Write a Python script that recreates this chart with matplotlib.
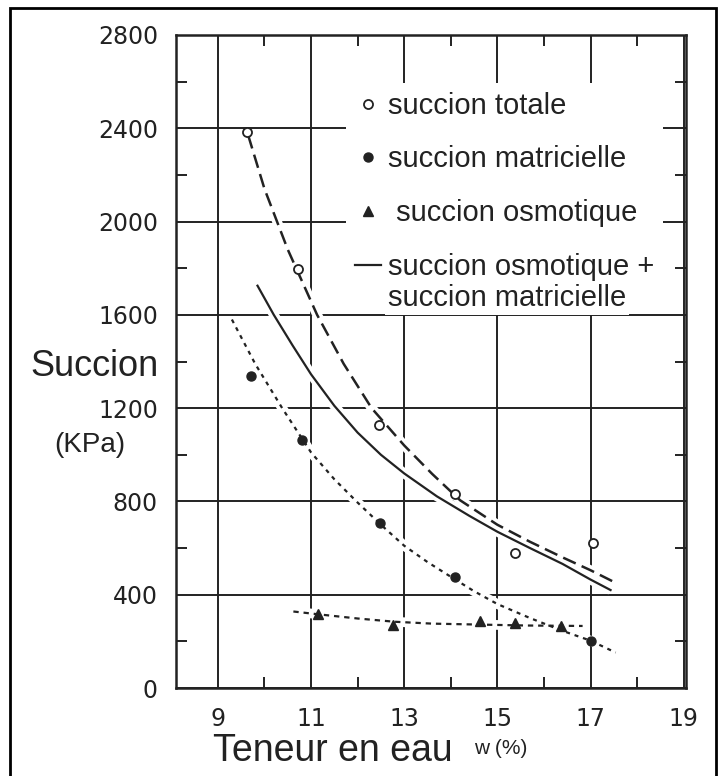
#!/usr/bin/env python3
import matplotlib
matplotlib.use('Agg')
import matplotlib.pyplot as plt
from matplotlib.patches import Rectangle

# measured points
w_total = [9.63, 10.72, 12.45, 14.1, 15.38, 17.05]
s_total = [2385, 1795, 1128, 832, 580, 622]
w_matric = [9.7, 10.81, 12.47, 14.08, 17.02]
s_matric = [1336, 1065, 708, 475, 200]
w_osmo = [11.15, 12.75, 14.62, 15.38, 16.37]
s_osmo = [318, 270, 288, 280, 267]

# fitted curves
cw_total = [9.65, 10.0, 10.5, 11.13, 11.7, 12.3, 13.0, 13.6, 14.2, 15.0, 15.7, 16.4, 17.0, 17.5]
cs_total = [2370, 2140, 1880, 1600, 1390, 1200, 1040, 918, 805, 700, 627, 560, 505, 455]
cw_sum = [9.85, 10.2, 10.6, 11.0, 11.5, 12.0, 12.5, 13.0, 13.7, 14.4, 15.0, 15.7, 16.4, 17.0, 17.43]
cs_sum = [1725, 1600, 1470, 1345, 1210, 1095, 1000, 920, 822, 738, 670, 600, 532, 465, 420]
cw_matric = [9.3, 9.8, 10.38, 11.0, 11.5, 12.0, 12.5, 13.0, 13.5, 14.0, 14.5, 15.0, 15.7, 16.4, 17.0, 17.54]
cs_matric = [1580, 1390, 1200, 1010, 895, 795, 700, 610, 540, 477, 415, 360, 300, 245, 203, 152]
cw_osmo = [10.62, 11.2, 12.0, 12.8, 13.6, 14.6, 15.6, 16.83]
cs_osmo = [328, 315, 298, 284, 276, 272, 268, 266]

x_ticks = [9, 11, 13, 15, 17, 19]
y_ticks = [0, 400, 800, 1200, 1600, 2000, 2400, 2800]

ink = '#222222'
plt.rcParams['font.family'] = ['Liberation Sans', 'DejaVu Sans']

fig = plt.figure(figsize=(7.26, 7.76), dpi=100)
ax = fig.add_axes([176 / 726, 1 - 688 / 776, 510 / 726, 653 / 776])

# white halos under the curves so the grid is cut where they cross
for cx, cy in [(cw_total, cs_total), (cw_sum, cs_sum), (cw_matric, cs_matric), (cw_osmo, cs_osmo)]:
    ax.plot(cx, cy, color='white', lw=7, solid_capstyle='butt', zorder=2)

ax.plot(cw_total, cs_total, color=ink, lw=1.8, dashes=(5.5, 2.6), zorder=3)
sum_line, = ax.plot(cw_sum, cs_sum, color=ink, lw=1.6, zorder=3,
                    label='succion osmotique +')
ax.plot(cw_matric, cs_matric, color=ink, lw=1.6, dashes=(1.8, 2.2), zorder=3)
ax.plot(cw_osmo, cs_osmo, color=ink, lw=1.6, dashes=(2.4, 2.2), zorder=3)

p_tot, = ax.plot(w_total, s_total, 'o', ms=6.5, mfc='white', mec=ink, mew=1.3,
                 zorder=4, label='succion totale')
p_mat, = ax.plot(w_matric, s_matric, 'o', ms=6.5, color=ink, zorder=4,
                 label='succion matricielle')
p_osm, = ax.plot(w_osmo, s_osmo, '^', ms=7, color=ink, zorder=4,
                 label=' succion osmotique')

ax.set_xlim(8.1, 19.05)
ax.set_ylim(0, 2800)
ax.set_xticks(x_ticks)
ax.set_yticks(y_ticks)
ax.set_xticks([10, 12, 14, 16, 18], minor=True)
ax.set_yticks([200, 600, 1000, 1400, 1800, 2200, 2600], minor=True)
ax.tick_params(which='both', direction='in', top=True, right=True,
               color=ink, width=1.4, labelcolor=ink, labelsize=17)
ax.tick_params(which='major', length=0)
ax.tick_params(which='minor', length=8)
ax.tick_params(axis='x', pad=14)
ax.tick_params(axis='y', pad=13)
for lab in ax.get_xticklabels() + ax.get_yticklabels():
    lab.set_family('DejaVu Sans')
ax.grid(True, which='major', color=ink, lw=1.4, zorder=1)
ax.set_axisbelow(True)
for sp in ax.spines.values():
    sp.set_color(ink)
    sp.set_linewidth(1.8)

leg = ax.legend(handles=[p_tot, p_mat, p_osm, sum_line], loc='upper left',
                bbox_to_anchor=(346 / 726, 1 - 83 / 776), bbox_transform=fig.transFigure,
                fontsize=21, frameon=True, facecolor='white', edgecolor='none',
                framealpha=1, borderpad=0.3, handlelength=0.9, handletextpad=0.25,
                labelspacing=0.88, borderaxespad=0)
for t in leg.get_texts():
    t.set_color(ink)
leg.set_zorder(5)

# second line of the last legend entry, set under the first one
fig.canvas.draw()
bb = leg.get_texts()[3].get_window_extent(fig.canvas.get_renderer())
fig.text(bb.x0 / 726, (bb.y0 + bb.y1) / 2 / 776 - 31 / 776, 'succion matricielle',
         fontsize=21, color=ink, ha='left', va='center', zorder=6,
         bbox=dict(facecolor='white', edgecolor='none', pad=2))

fig.text(95 / 726, 1 - 367 / 776, 'Succion', fontsize=26, color=ink, ha='center', va='center')
fig.text(90 / 726, 1 - 445 / 776, '(KPa)', fontsize=20, color=ink, ha='center', va='center')
fig.text(213 / 726, 1 - 751 / 776, 'Teneur en eau', fontsize=27, color=ink, ha='left', va='center')
fig.text(474 / 726, 1 - 749 / 776, 'w (%)', fontsize=15, color=ink, ha='left', va='center')

# frame round the scanned figure
fig.patches.append(Rectangle((10 / 726, -0.01), 706 / 726, 1 - 8 / 776 + 0.01,
                             transform=fig.transFigure, fill=False, ec='black', lw=2))

fig.savefig('out.png', dpi=100)
